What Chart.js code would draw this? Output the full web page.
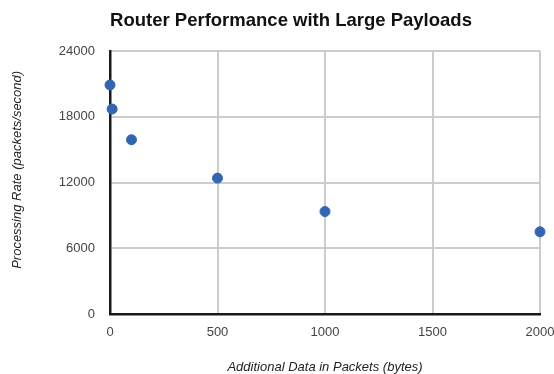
<!DOCTYPE html>
<html>
<head>
<meta charset="utf-8">
<script src="https://cdn.jsdelivr.net/npm/chart.js@4.4.0/dist/chart.umd.min.js"></script>
<style>
  body { margin: 0; background: #fff; }
  canvas { display: block; }
</style>
</head>
<body>
<canvas id="perfChart" width="554" height="374"></canvas>
<script>
// Data
const payloadBytes = [0, 10, 100, 500, 1000, 2000];
const packetsPerSec = [20900, 18700, 15900, 12400, 9350, 7500];
const xTicks = [0, 500, 1000, 1500, 2000];
const yTicks = [0, 6000, 12000, 18000, 24000];

const chartTitle = 'Router Performance with Large Payloads';
const xTitle = 'Additional Data in Packets (bytes)';
const yTitle = 'Processing Rate (packets/second)';

const fontFamily = '"Liberation Sans", Arial, Helvetica, sans-serif';

const points = payloadBytes.map((x, i) => ({ x: x, y: packetsPerSec[i] }));

const ctx = document.getElementById('perfChart').getContext('2d');
new Chart(ctx, {
    type: 'scatter',
    data: {
        datasets: [{
            label: 'Processing Rate',
            data: points,
            backgroundColor: '#3365b5',
            borderColor: '#3365b5',
            pointRadius: 5,
            pointHoverRadius: 5,
            clip: false
        }]
    },
    options: {
        responsive: false,
        animation: false,
        layout: { padding: { left: 28, right: 0, top: 0, bottom: 0 } },
        plugins: {
            legend: { display: false },
            tooltip: { enabled: false },
            title: {
                display: true,
                text: chartTitle,
                color: '#111',
                font: { family: fontFamily, size: 18.5, weight: 'bold', lineHeight: 1.2 },
                padding: { top: 10, bottom: 18.8 }
            }
        },
        scales: {
            x: {
                type: 'linear',
                min: xTicks[0],
                max: xTicks[xTicks.length - 1],
                afterBuildTicks: (scale) => { scale.ticks = xTicks.map(v => ({ value: v })); },
                afterFit: (scale) => {
                    scale.height = 60;
                    scale.paddingLeft = 0;
                    scale.paddingRight = 14;
                },
                grid: { color: '#cccccc', lineWidth: 2, drawTicks: false },
                border: { color: '#1a1a1a', width: 2.5 },
                ticks: {
                    color: '#444', padding: 11,
                    font: { family: fontFamily, size: 13 },
                    callback: (v) => String(v)
                },
                title: {
                    display: true,
                    text: xTitle,
                    color: '#222',
                    font: { family: fontFamily, size: 13, style: 'italic', lineHeight: 1 },
                    padding: { top: 0, bottom: 0 }
                }
            },
            y: {
                type: 'linear',
                min: yTicks[0],
                max: yTicks[yTicks.length - 1],
                afterBuildTicks: (scale) => { scale.ticks = yTicks.map(v => ({ value: v })); },
                afterFit: (scale) => {
                    scale.width = 82;
                    scale.paddingTop = 0;
                    scale.paddingBottom = 0;
                },
                grid: { color: '#cccccc', lineWidth: 2, drawTicks: false },
                border: { color: '#1a1a1a', width: 2.5 },
                ticks: {
                    color: '#444', padding: 15,
                    font: { family: fontFamily, size: 13 },
                    callback: (v) => String(v)
                },
                title: {
                    display: true,
                    text: '       ' + yTitle,
                    color: '#222',
                    font: { family: fontFamily, size: 13, style: 'italic', lineHeight: 1 },
                    padding: { top: -17.5, bottom: 0 }
                }
            }
        }
    }
});
</script>
</body>
</html>
